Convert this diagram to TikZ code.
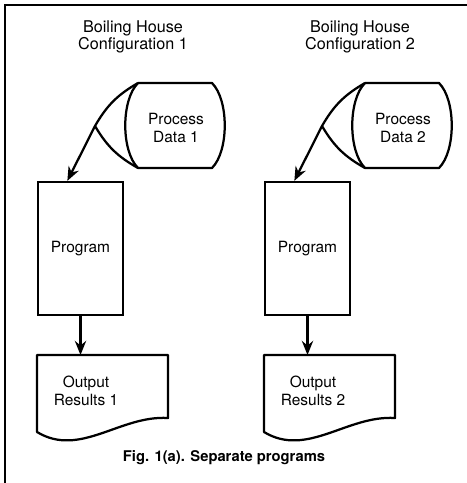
\documentclass[tikz,border=0pt]{standalone}
\usepackage{fontspec}
\setmainfont{TeX Gyre Heros}
\usetikzlibrary{arrows.meta,positioning}
\tikzset{
  lbl/.style={align=center,inner sep=0pt,font=\fontsize{11}{12.5}\selectfont},
  progbox/.style={lbl,draw,line width=1.6pt,minimum width=2.125cm,minimum height=3.325cm},
  outline/.style={line width=1.6pt,line join=round},
  flow/.style={line width=1.6pt,-{Stealth[length=10pt,width=8pt]}}
}
\begin{document}
\begin{tikzpicture}[x=0.025cm,y=-0.025cm]
\useasboundingbox (0,0) rectangle (467,483);
% frame
\draw[line width=1.6pt] (5,483) -- (5,5) -- (467,5);

\foreach \n/\dx in {1/0,2/227}{
\begin{scope}[xshift=\dx*0.025cm]
\node[lbl,font=\fontsize{11.5}{12.5}\selectfont] (title\n) at (133,37) {Boiling House\\Configuration \n};
% stored data
\draw[outline] (138,83) -- (212,83) .. controls (229,100) and (229,151) .. (212,168)
  -- (138,168) .. controls (121,151) and (121,100) .. (138,83);
\coordinate (tip\n) at (95,126);
\draw[outline] (138,83) to[bend right=15] (tip\n) to[bend right=15] (138,168);
\node[lbl] (data\n) at (176,128) {Process\\Data \n};
% program
\node[progbox] (prog\n) at (80.5,248.5) {Program};
\draw[flow] (tip\n) -- (prog\n.101);
% document
\draw[outline] (37,355) -- (168,355) -- (168,418) .. controls (120,415) and (80,458) .. (37,432) -- cycle;
\coordinate (doc\n) at (80.5,355);
\node[lbl] (res\n) at (86,391) {Output\\Results \n};
\draw[flow] (prog\n.south) -- (doc\n);
\end{scope}
}

\node[lbl,font=\bfseries\fontsize{10.5}{12}\selectfont] (caption) at (224,458) {Fig. 1(a). Separate programs};
\end{tikzpicture}
\end{document}
